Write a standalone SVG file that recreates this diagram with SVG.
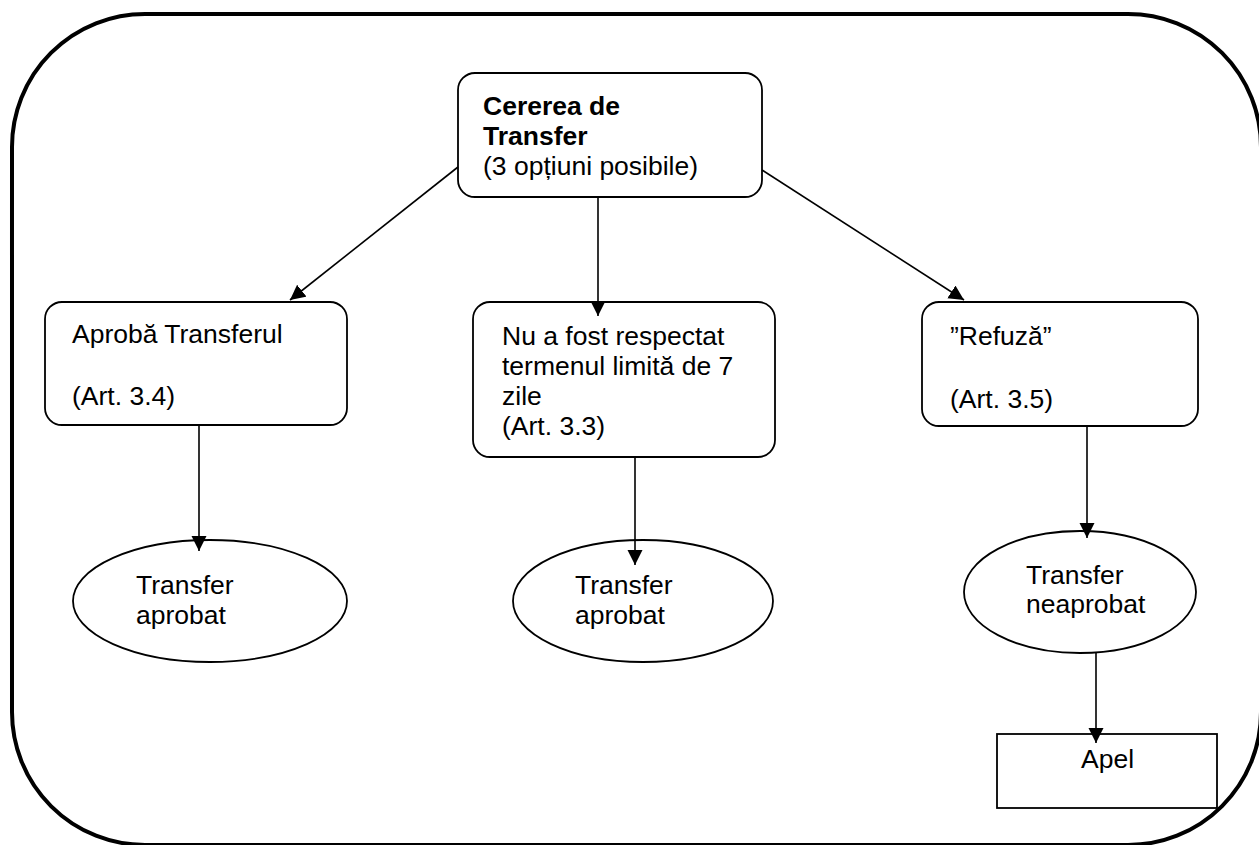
<svg xmlns="http://www.w3.org/2000/svg" width="1259" height="845" viewBox="0 0 1259 845">
<style>
.box{fill:#fff;stroke:#000;stroke-width:1.8}
.t{font-family:"Liberation Sans",Arial,sans-serif;font-size:26.5px;fill:#000}
.b{font-weight:bold}
.c{stroke:#000;stroke-width:1.6;fill:none;marker-end:url(#ah)}
</style>
<defs>
<marker id="ah" markerUnits="userSpaceOnUse" markerWidth="16" markerHeight="16" refX="15" refY="7.5" orient="auto">
<path d="M0,0 L15,7.5 L0,15 z" fill="#000"/>
</marker>
</defs>
<rect id="frame" x="12" y="14" width="1249" height="831" rx="133" ry="133" fill="none" stroke="#000" stroke-width="4"/>
<g id="n-cerere">
<rect class="box" x="458" y="73" width="304" height="124" rx="17"/>
<text class="t b" x="483" y="115">Cererea de</text>
<text class="t b" x="483" y="145">Transfer</text>
<text class="t" x="483" y="175">(3 opțiuni posibile)</text>
</g>
<g id="n-aproba">
<rect class="box" x="45" y="302" width="302" height="123" rx="17"/>
<text class="t" x="72" y="343">Aprobă Transferul</text>
<text class="t" x="72" y="405">(Art. 3.4)</text>
</g>
<g id="n-termen">
<rect class="box" x="473" y="302" width="302" height="155" rx="17"/>
<text class="t" x="502" y="345">Nu a fost respectat</text>
<text class="t" x="502" y="375">termenul limită de 7</text>
<text class="t" x="502" y="405">zile</text>
<text class="t" x="502" y="435">(Art. 3.3)</text>
</g>
<g id="n-refuza">
<rect class="box" x="922" y="302" width="276" height="124" rx="17"/>
<text class="t" x="950" y="345">”Refuză”</text>
<text class="t" x="950" y="408">(Art. 3.5)</text>
</g>
<g id="n-aprobat1">
<ellipse class="box" cx="210" cy="601" rx="137" ry="61"/>
<text class="t" x="136" y="594">Transfer</text>
<text class="t" x="136" y="624">aprobat</text>
</g>
<g id="n-aprobat2">
<ellipse class="box" cx="643" cy="601" rx="130" ry="61"/>
<text class="t" x="575" y="594">Transfer</text>
<text class="t" x="575" y="624">aprobat</text>
</g>
<g id="n-neaprobat">
<ellipse class="box" cx="1080" cy="592" rx="116" ry="61"/>
<text class="t" x="1026" y="584">Transfer</text>
<text class="t" x="1026" y="613">neaprobat</text>
</g>
<g id="n-apel">
<rect class="box" x="997" y="734" width="220" height="74"/>
<text class="t" x="1081" y="768">Apel</text>
</g>
<g id="connectors">
<line class="c" x1="458" y1="167" x2="290" y2="300"/>
<line class="c" x1="598" y1="197" x2="598" y2="316"/>
<line class="c" x1="762" y1="170" x2="964" y2="300"/>
<line class="c" x1="199" y1="425" x2="199" y2="551"/>
<line class="c" x1="635" y1="457" x2="635" y2="565"/>
<line class="c" x1="1087" y1="426" x2="1087" y2="538"/>
<line class="c" x1="1096" y1="653" x2="1096" y2="743"/>
</g>
</svg>
